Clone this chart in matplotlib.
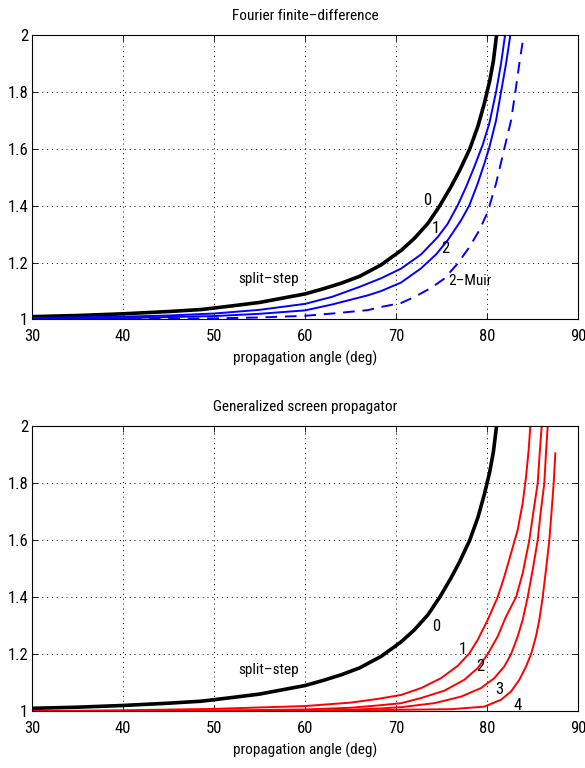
import matplotlib
matplotlib.use("Agg")
import matplotlib.pyplot as plt

plt.rcParams['font.family'] = ['Roboto Condensed', 'Liberation Sans Narrow', 'Liberation Sans', 'DejaVu Sans']

# ---------------- data ----------------
x_ticks = [30, 40, 50, 60, 70, 80, 90]
y_ticks = [1, 1.2, 1.4, 1.6, 1.8, 2]
y_tick_labels = ["1", "1.2", "1.4", "1.6", "1.8", "2"]

# split-step (order 0), same in both panels
ss_x = [30, 35, 40, 45, 48.6, 52, 55, 58, 60, 62, 64, 66, 68.35, 70.55, 72, 73.5, 74.8, 76, 77, 78.1, 79.0, 79.7, 80.3, 80.7, 81.05]
ss_y = [1.010, 1.014, 1.020, 1.028, 1.035, 1.048, 1.060, 1.078, 1.090, 1.108, 1.128, 1.152, 1.192, 1.243, 1.285, 1.338, 1.40, 1.465, 1.525, 1.60, 1.68, 1.76, 1.84, 1.91, 2.0]

# Fourier finite-difference, order 1
ffd1_x = [30, 40, 45, 50, 55, 60, 63, 66, 68.35, 70.55, 72.75, 74.58, 75.68, 76.78, 77.69, 78.6, 79.53, 80.25, 80.99, 81.54, 81.98]
ffd1_y = [1.005, 1.010, 1.014, 1.021, 1.034, 1.055, 1.080, 1.115, 1.145, 1.179, 1.229, 1.290, 1.337, 1.402, 1.466, 1.537, 1.615, 1.69, 1.80, 1.90, 2.0]
# order 2
ffd2_x = [30, 40, 50, 55, 60, 63, 66.9, 68.35, 70.55, 72.75, 74.4, 75.68, 77.15, 78.06, 78.97, 79.7, 80.25, 80.99, 81.54, 82.09, 82.56]
ffd2_y = [1.002, 1.005, 1.012, 1.020, 1.032, 1.053, 1.085, 1.100, 1.130, 1.180, 1.229, 1.279, 1.349, 1.402, 1.478, 1.548, 1.605, 1.70, 1.80, 1.90, 2.0]
# order 2 - Muir
muir_x = [30, 40, 50, 55, 60, 63, 66.9, 68.35, 70.55, 72.01, 73.85, 75.31, 76.78, 78.06, 79.16, 80.07, 80.99, 81.9, 82.64, 83.11, 83.55, 84.03]
muir_y = [1.000, 1.001, 1.004, 1.007, 1.013, 1.021, 1.033, 1.044, 1.058, 1.079, 1.111, 1.144, 1.197, 1.255, 1.314, 1.378, 1.478, 1.601, 1.70, 1.80, 1.90, 2.0]

# Generalized screen propagator, orders 1-4
gsp1_x = [30, 40, 50, 60, 65, 68, 70.55, 72.75, 74.95, 76.78, 78.06, 78.97, 80.07, 81.17, 81.9, 82.64, 83.37, 83.92, 84.29, 84.58, 84.76]
gsp1_y = [1.000, 1.003, 1.008, 1.018, 1.030, 1.043, 1.057, 1.081, 1.116, 1.159, 1.203, 1.250, 1.320, 1.40, 1.472, 1.554, 1.636, 1.73, 1.823, 1.917, 2.0]
gsp2_x = [30, 50, 60, 65, 68, 70.55, 72.75, 75.31, 77.5, 78.97, 80.07, 81.17, 82.09, 83.19, 83.92, 84.65, 85.13, 85.57, 85.79, 86.01]
gsp2_y = [1.000, 1.002, 1.006, 1.012, 1.020, 1.028, 1.046, 1.072, 1.11, 1.151, 1.20, 1.262, 1.332, 1.40, 1.484, 1.60, 1.706, 1.80, 1.905, 2.0]
gsp3_x = [30, 60, 65, 68, 70.55, 74.21, 77.14, 79.34, 80.8, 81.9, 82.64, 83.37, 83.92, 84.47, 85.02, 85.57, 85.93, 86.3, 86.48, 86.67]
gsp3_y = [1.000, 1.002, 1.005, 1.009, 1.014, 1.028, 1.051, 1.081, 1.116, 1.157, 1.20, 1.262, 1.32, 1.40, 1.496, 1.60, 1.706, 1.80, 1.905, 2.0]
gsp4_x = [30, 60, 65, 68, 70.55, 76.04, 79.7, 81.54, 82.64, 83.55, 84.29, 84.84, 85.38, 85.75, 86.12, 86.48, 86.85, 87.11, 87.33, 87.51]
gsp4_y = [1.000, 1.000, 1.001, 1.003, 1.005, 1.007, 1.016, 1.04, 1.069, 1.11, 1.157, 1.20, 1.262, 1.32, 1.40, 1.496, 1.60, 1.706, 1.80, 1.905]

# ---------------- figure ----------------
fig = plt.figure(figsize=(5.85, 7.68), dpi=100)
ax1 = fig.add_axes([0.055, 0.584, 0.933, 0.370])
ax2 = fig.add_axes([0.055, 0.074, 0.933, 0.371])

TICK_FS = 12
LAB_FS = 11

def style(ax, title):
    ax.set_xlim(30, 90)
    ax.set_ylim(1, 2)
    ax.set_xticks(x_ticks)
    ax.set_yticks(y_ticks)
    ax.set_yticklabels(y_tick_labels)
    ax.tick_params(direction='in', length=4, width=0.6, top=True, right=True,
                   labelsize=TICK_FS)
    ax.tick_params(axis='x', pad=7)
    ax.tick_params(axis='y', pad=3)
    ax.grid(True, color='black', linestyle=(0, (1, 4)), linewidth=0.7)
    for s in ax.spines.values():
        s.set_linewidth(0.8)
    ax.set_xlabel('propagation angle (deg)', fontsize=LAB_FS, labelpad=5)
    ax.set_title(title, fontsize=LAB_FS, pad=11)

style(ax1, 'Fourier finite\u2013difference')
ax1.plot(ss_x, ss_y, color='black', lw=2.6, solid_capstyle='butt')
ax1.plot(ffd1_x, ffd1_y, color='#0000ff', lw=1.4)
ax1.plot(ffd2_x, ffd2_y, color='#0000ff', lw=1.4)
ax1.plot(muir_x, muir_y, color='#0000ff', lw=1.4, linestyle=(0, (6, 4)))
ax1.text(56.0, 1.144, 'split\u2013step', fontsize=LAB_FS, ha='center', va='center')
ax1.text(73.4, 1.417, '0', fontsize=TICK_FS, ha='center', va='center')
ax1.text(74.4, 1.32, '1', fontsize=TICK_FS, ha='center', va='center')
ax1.text(75.4, 1.25, '2', fontsize=TICK_FS, ha='center', va='center')
ax1.text(75.7, 1.135, '2\u2013Muir', fontsize=LAB_FS, ha='left', va='center')

style(ax2, 'Generalized screen propagator')
ax2.plot(ss_x, ss_y, color='black', lw=2.6, solid_capstyle='butt')
for gx, gy in [(gsp1_x, gsp1_y), (gsp2_x, gsp2_y), (gsp3_x, gsp3_y), (gsp4_x, gsp4_y)]:
    ax2.plot(gx, gy, color='#ff0000', lw=1.4)
ax2.text(56.0, 1.145, 'split\u2013step', fontsize=LAB_FS, ha='center', va='center')
ax2.text(74.4, 1.297, '0', fontsize=TICK_FS, ha='center', va='center')
ax2.text(77.3, 1.215, '1', fontsize=TICK_FS, ha='center', va='center')
ax2.text(79.3, 1.156, '2', fontsize=TICK_FS, ha='center', va='center')
ax2.text(81.35, 1.077, '3', fontsize=TICK_FS, ha='center', va='center')
ax2.text(83.4, 1.019, '4', fontsize=TICK_FS, ha='center', va='center')

fig.savefig('out.png', dpi=100)
